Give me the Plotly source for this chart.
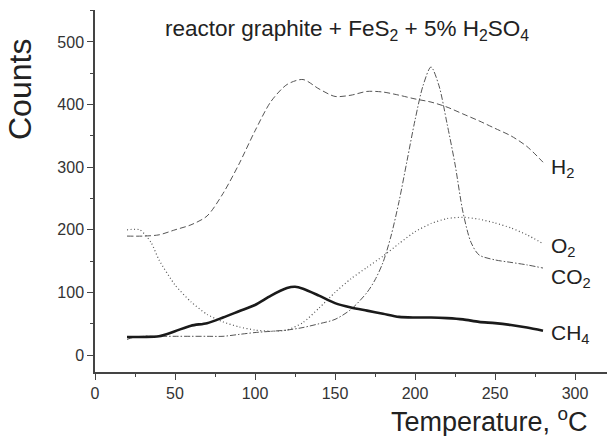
import plotly.graph_objects as go

# Temperature (°C) grid for each series
t_h2 = [20, 30, 40, 50, 60, 70, 80, 90, 100, 110, 120, 130, 140, 150, 160, 170, 180, 190, 200, 210, 220, 230, 240, 250, 260, 270, 280]
h2 = [190, 190, 192, 200, 208, 222, 258, 305, 358, 405, 432, 440, 425, 413, 415, 421, 420, 415, 409, 404, 396, 385, 374, 362, 350, 333, 308]

t_o2 = [20, 28, 35, 40, 50, 60, 70, 80, 90, 100, 110, 120, 130, 140, 150, 160, 170, 180, 190, 200, 210, 220, 230, 240, 250, 260, 270, 280]
o2 = [200, 200, 180, 152, 112, 85, 65, 53, 45, 40, 38, 40, 52, 75, 100, 122, 140, 158, 178, 197, 210, 218, 220, 217, 211, 203, 192, 178]

t_co2 = [20, 25, 30, 40, 50, 60, 70, 80, 90, 100, 110, 120, 130, 140, 150, 160, 170, 175, 180, 185, 190, 195, 200, 205, 210, 215, 220, 225, 230, 235, 240, 250, 260, 270, 280]
co2 = [25, 29, 30, 30, 30, 30, 30, 30, 33, 36, 38, 40, 44, 50, 57, 73, 100, 120, 148, 190, 245, 310, 375, 430, 460, 430, 370, 305, 228, 180, 160, 152, 148, 144, 139]

t_ch4 = [20, 30, 40, 50, 60, 70, 80, 90, 100, 110, 120, 125, 130, 140, 150, 160, 170, 180, 190, 200, 210, 220, 230, 240, 250, 260, 270, 280]
ch4 = [29, 29, 30, 38, 47, 51, 60, 70, 80, 95, 107, 109, 106, 95, 83, 76, 71, 66, 61, 60, 60, 59, 57, 53, 51, 48, 44, 39]

x_ticks = [0, 50, 100, 150, 200, 250, 300]
y_ticks = [0, 100, 200, 300, 400, 500]

FONT = "Liberation Sans"
GREY = "#555555"

fig = go.Figure()
fig.add_trace(go.Scatter(x=t_h2, y=h2, mode="lines", line=dict(color=GREY, width=1, dash="6px,3px", shape="spline", smoothing=0.8)))
fig.add_trace(go.Scatter(x=t_o2, y=o2, mode="lines", line=dict(color=GREY, width=1.2, dash="1px,2.5px", shape="spline", smoothing=0.6)))
fig.add_trace(go.Scatter(x=t_co2, y=co2, mode="lines", line=dict(color=GREY, width=1, dash="6px,2px,1.5px,2px", shape="spline", smoothing=0.8)))
fig.add_trace(go.Scatter(x=t_ch4, y=ch4, mode="lines", line=dict(color="#1a1a1a", width=2.6, shape="spline", smoothing=0.8)))

axis_common = dict(
    showgrid=False, zeroline=False, showline=True, linecolor="#444444", linewidth=1.5,
    ticks="outside", ticklen=6, tickwidth=1.2, tickcolor="#444444", automargin=False,
    tickfont=dict(family=FONT, size=16, color="#333333"),
)
fig.update_xaxes(range=[0, 320], tickvals=x_ticks,
                 minor=dict(dtick=25, tick0=0, ticks="outside", ticklen=3, tickcolor="#444444", tickwidth=1.2),
                 **axis_common)
fig.update_yaxes(range=[-27, 551], tickvals=y_ticks,
                 minor=dict(dtick=50, tick0=0, ticks="outside", ticklen=3, tickcolor="#444444", tickwidth=1.2),
                 **axis_common)

labels = [("H<sub>2</sub>", 299), ("O<sub>2</sub>", 172), ("CO<sub>2</sub>", 123), ("CH<sub>4</sub>", 34)]
for txt, yv in labels:
    fig.add_annotation(x=284, y=yv, xref="x", yref="y", text=txt, showarrow=False,
                       xanchor="left", yanchor="middle", font=dict(family=FONT, size=21, color="#222222"))

fig.add_annotation(x=(347 - 95) / 512, y=(372 - 30) / 362, xref="paper", yref="paper",
                   text="reactor graphite + FeS<sub>2</sub> + 5% H<sub>2</sub>SO<sub>4</sub>",
                   showarrow=False, xanchor="center", yanchor="middle",
                   font=dict(family=FONT, size=22.5, color="#222222"))
fig.add_annotation(x=(20 - 95) / 512, y=(372 - 90) / 362, xref="paper", yref="paper",
                   text="Counts", textangle=-90, showarrow=False, xanchor="center", yanchor="middle",
                   font=dict(family=FONT, size=32, color="#222222"))
fig.add_annotation(x=(489 - 95) / 512, y=(372 - 420) / 362, xref="paper", yref="paper",
                   text="Temperature, <sup>o</sup>C", showarrow=False, xanchor="center", yanchor="middle",
                   font=dict(family=FONT, size=27, color="#222222"))

fig.update_layout(
    width=607, height=436, showlegend=False,
    margin=dict(l=95, r=0, t=10, b=64),
    plot_bgcolor="white", paper_bgcolor="white",
)
fig.write_html("out.html", config={"displayModeBar": False},
               post_script="document.body.style.margin='0';document.body.style.overflow='hidden';")
